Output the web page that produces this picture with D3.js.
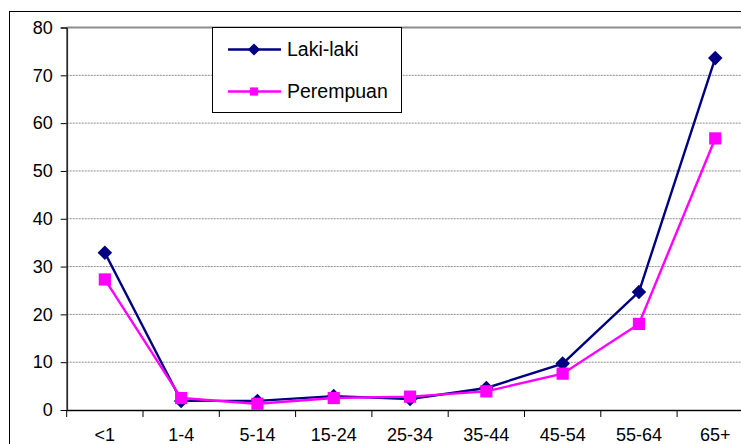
<!DOCTYPE html>
<html>
<head>
<meta charset="utf-8">
<script src="https://cdn.jsdelivr.net/npm/d3@7"></script>
<style>
  html, body { margin: 0; padding: 0; background: #fff; overflow: hidden; }
  svg { display: block; font-family: "Liberation Sans", Arial, sans-serif; }
</style>
</head>
<body>
<div id="chart"></div>
<script>
// Age groups and rates
const ageGroups = ["<1", "1-4", "5-14", "15-24", "25-34", "35-44", "45-54", "55-64", "65+"];
const lakiLaki  = [32.9, 1.9, 1.9, 2.9, 2.3, 4.6, 9.7, 24.7, 73.6];
const perempuan = [27.3, 2.5, 1.3, 2.5, 2.8, 3.9, 7.6, 18.0, 56.8];
const yTicks = [0, 10, 20, 30, 40, 50, 60, 70, 80];

const seriesList = [
    {name: "Laki-laki", values: lakiLaki, color: "#000080", symbol: "diamond"},
    {name: "Perempuan", values: perempuan, color: "#ff00ff", symbol: "square"}
];

const width = 741, height = 444;
const plot = {left: 66.7, top: 27.5, bottom: 410, right: 66.7 + 9 * 76.3};

const svg = d3.select("#chart")
    .append("svg")
    .attr("width", width)
    .attr("height", height);

// outer chart border (right and bottom fall outside the window)
svg.append("rect")
    .attr("x", 9.5)
    .attr("y", 11.5)
    .attr("width", 800)
    .attr("height", 500)
    .attr("fill", "#fff")
    .attr("stroke", "#000")
    .attr("stroke-width", 1);

const x = d3.scaleBand()
    .domain(ageGroups)
    .range([plot.left, plot.right]);

const y = d3.scaleLinear()
    .domain([0, 80])
    .range([plot.bottom, plot.top]);

// gridlines
svg.append("g")
    .selectAll("line")
    .data(yTicks.filter(d => d > 0 && d < 80))
    .join("line")
    .attr("x1", plot.left)
    .attr("x2", plot.right)
    .attr("y1", d => y(d))
    .attr("y2", d => y(d))
    .attr("stroke", "#8c8c8c")
    .attr("stroke-width", 1)
    .attr("stroke-dasharray", "2,1");

// plot area frame (grey)
svg.append("line")
    .attr("x1", plot.left).attr("x2", plot.right)
    .attr("y1", y(80)).attr("y2", y(80))
    .attr("stroke", "#8c8c8c").attr("stroke-width", 2);
svg.append("line")
    .attr("x1", plot.left).attr("x2", plot.right)
    .attr("y1", y(0) + 0.5).attr("y2", y(0) + 0.5)
    .attr("stroke", "#8c8c8c").attr("stroke-width", 2);
svg.append("line")
    .attr("x1", plot.left + 0.5).attr("x2", plot.left + 0.5)
    .attr("y1", y(80)).attr("y2", y(0))
    .attr("stroke", "#8c8c8c").attr("stroke-width", 2);

// y axis
const yAxis = svg.append("g")
    .attr("transform", `translate(${plot.left},0)`)
    .call(d3.axisLeft(y).tickValues(yTicks).tickSize(6).tickPadding(8));
yAxis.select(".domain").attr("stroke", "#000");
yAxis.selectAll("text").attr("font-size", 18).attr("fill", "#000")
    .attr("font-family", "'Liberation Sans', Arial, sans-serif");

// x axis labels
const xAxis = svg.append("g")
    .attr("transform", `translate(0,${plot.bottom})`)
    .call(d3.axisBottom(x).tickSize(0).tickPadding(18));
xAxis.select(".domain").attr("stroke", "#000");
xAxis.selectAll("text").attr("font-size", 18).attr("fill", "#000")
    .attr("font-family", "'Liberation Sans', Arial, sans-serif");

// x tick marks at category boundaries
const boundaries = ageGroups.map(d => x(d)).concat([x(ageGroups[ageGroups.length - 1]) + x.bandwidth()]);
xAxis.selectAll(".bound")
    .data(boundaries)
    .join("line")
    .attr("class", "bound")
    .attr("x1", d => d)
    .attr("x2", d => d)
    .attr("y1", 0)
    .attr("y2", 7)
    .attr("stroke", "#000");

// lines and markers
const line = d3.line()
    .x((d, i) => x(ageGroups[i]) + x.bandwidth() / 2)
    .y(d => y(d));

const symbolFor = (s, size) => s === "diamond"
    ? d3.symbol().type(d3.symbolDiamond2).size(size)()
    : d3.symbol().type(d3.symbolSquare2).size(size)();

seriesList.forEach(s => {
    svg.append("path")
        .datum(s.values)
        .attr("fill", "none")
        .attr("stroke", s.color)
        .attr("stroke-width", 2.4)
        .attr("d", line);

    svg.append("g")
        .selectAll("path")
        .data(s.values)
        .join("path")
        .attr("transform", (d, i) => `translate(${x(ageGroups[i]) + x.bandwidth() / 2},${y(d)})`)
        .attr("d", symbolFor(s.symbol, s.symbol === "diamond" ? 135 : 190))
        .attr("fill", s.color);
});

// legend
const legend = svg.append("g");
legend.append("rect")
    .attr("x", 212.5)
    .attr("y", 27.5)
    .attr("width", 189)
    .attr("height", 85)
    .attr("fill", "#fff")
    .attr("stroke", "#000");

const legendItem = legend.selectAll(".item")
    .data(seriesList)
    .join("g")
    .attr("class", "item")
    .attr("transform", (d, i) => `translate(0,${49.5 + i * 42})`);

legendItem.append("line")
    .attr("x1", 228)
    .attr("x2", 281)
    .attr("stroke", d => d.color)
    .attr("stroke-width", 2.4);

legendItem.append("path")
    .attr("transform", "translate(254,0)")
    .attr("d", d => symbolFor(d.symbol, d.symbol === "diamond" ? 95 : 85))
    .attr("fill", d => d.color);

legendItem.append("text")
    .attr("x", 287)
    .attr("dy", "0.35em")
    .attr("font-size", 19.5)
    .attr("fill", "#000")
    .text(d => d.name);
</script>
</body>
</html>
